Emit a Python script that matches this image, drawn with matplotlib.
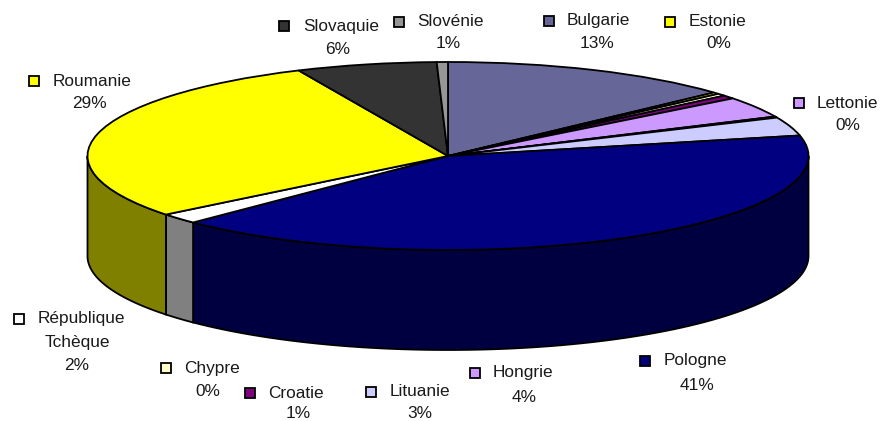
import numpy as np
import matplotlib
matplotlib.use('Agg')
import matplotlib.pyplot as plt

plt.rcParams['font.family'] = ['Liberation Sans', 'DejaVu Sans']

# Share of each country, clockwise from 12 o'clock
countries = ['Bulgarie', 'Estonie', 'Chypre', 'Croatie', 'Hongrie', 'Lettonie', 'Lituanie',
             'Pologne', 'République\nTchèque', 'Roumanie', 'Slovaquie', 'Slovénie']
values = [13.2, 0.3, 0.4, 0.6, 3.6, 0.2, 3.2, 41.0, 1.8, 28.9, 6.3, 0.5]
percents = ['13%', '0%', '0%', '1%', '4%', '0%', '3%', '41%', '2%', '29%', '6%', '1%']

top_colors = ['#666699', '#FFFF00', '#FFFFCC', '#800080', '#CC99FF', '#CC99FF', '#CCCCFF',
              '#000080', '#FFFFFF', '#FFFF00', '#333333', '#969696']
wall_colors = ['#333366', '#808000', '#808066', '#400040', '#664D80', '#664D80', '#666680',
               '#000040', '#808080', '#808000', '#1A1A1A', '#4B4B4B']

# Label layout in pixels: swatch x, swatch y, text x, value centre x, value y
label_pos = {
    'Bulgarie': (549, 21, 567, 597, 44),
    'Estonie': (670, 22, 689, 719, 44),
    'Chypre': (166, 368, 184, 208, 391),
    'Croatie': (250, 393, 268, 298, 413),
    'Hongrie': (475, 373, 493, 524, 397),
    'Lettonie': (799, 103, 817, 848, 125),
    'Lituanie': (371, 392, 390, 420, 413),
    'Pologne': (645, 361, 664, 697, 385),
    'République\nTchèque': (19, 319, 38, 77, 365),
    'Roumanie': (34, 81, 53, 89, 103),
    'Slovaquie': (284, 26, 303, 338, 49),
    'Slovénie': (399, 22, 417, 448, 44),
}

W, H = 883, 421
cx, cy, rx, ry, depth = 448, 156, 360.5, 94, 100
font_size = 12.4
text_color = '#1A1A1A'

fig = plt.figure(figsize=(W / 100, H / 100), dpi=100)
fig.patch.set_facecolor('white')

# The top face is an ordinary pie stretched into an ellipse
ax = fig.add_axes([(cx - rx) / W, 1 - (cy + ry) / H, 2 * rx / W, 2 * ry / H])

edges = np.cumsum([0] + values) / sum(values) * 2 * np.pi
for i in range(len(values)):
    a0 = max(edges[i], np.pi / 2)
    a1 = min(edges[i + 1], 3 * np.pi / 2)
    if a1 <= a0:
        continue
    t = np.linspace(a0, a1, 80)
    x = np.sin(t)
    y = np.cos(t)
    ax.fill(np.r_[x, x[::-1]], np.r_[y, y[::-1] - depth / ry], facecolor=wall_colors[i],
            edgecolor='black', linewidth=1.3, clip_on=False, zorder=1)

wedges, _ = ax.pie(values, colors=top_colors, startangle=90, counterclock=False, radius=1,
                   wedgeprops={'edgecolor': 'black', 'linewidth': 1.3}, frame=False)
for w in wedges:
    w.set_clip_on(False)
    w.set_zorder(2)
ax.set_aspect('auto')
ax.set_xlim(-1, 1)
ax.set_ylim(-1, 1)
ax.axis('off')

# Overlay in pixel coordinates for the labels
ov = fig.add_axes([0, 0, 1, 1])
ov.set_xlim(0, W)
ov.set_ylim(H, 0)
ov.axis('off')
ov.patch.set_alpha(0)

for name, color, pct in zip(countries, top_colors, percents):
    sx, sy, tx, vx, vy = label_pos[name]
    ov.plot([sx], [sy], marker='s', markersize=6.5, markerfacecolor=color,
            markeredgecolor='black', markeredgewidth=1.3, linestyle='none')
    if '\n' in name:
        first, second = name.split('\n')
        ov.text(tx, sy, first, fontsize=font_size, color=text_color, va='center', ha='left')
        ov.text(vx, sy + 23, second, fontsize=font_size, color=text_color, va='center', ha='center')
    else:
        ov.text(tx, sy, name, fontsize=font_size, color=text_color, va='center', ha='left')
    ov.text(vx, vy, pct, fontsize=font_size, color=text_color, va='center', ha='center')

fig.savefig('out.png', dpi=100)
